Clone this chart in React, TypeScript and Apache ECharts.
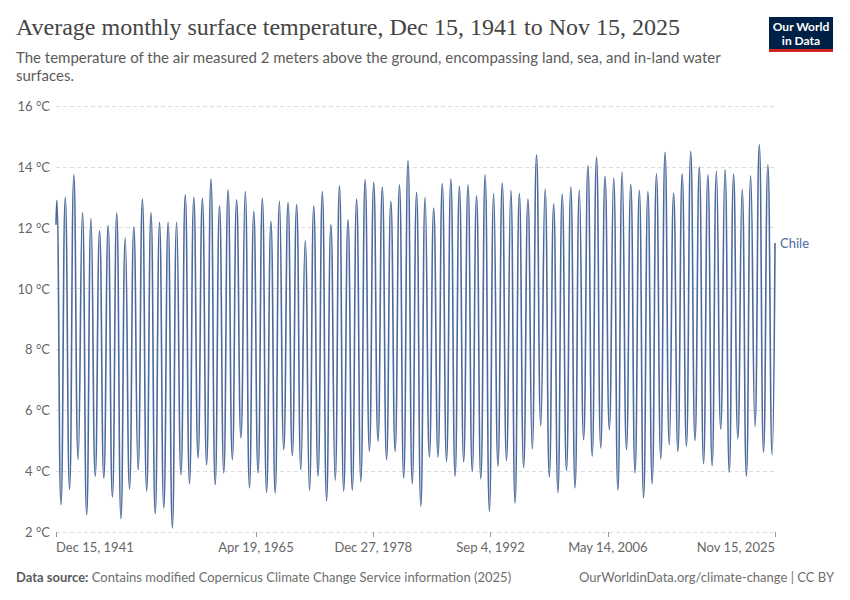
import React, { useEffect, useRef } from "react";
import * as echarts from "echarts";

// Chile, average monthly surface temperature (°C)
const FIRST_PEAK_YEAR = 1942;
const startPoint = { year: 1941, month: 12, day: 15, value: 12.1 };
const endPoint = { year: 2025, month: 11, day: 15, value: 11.5 };

// Summer peak (January) of each year 1942..2025
const janPeaks = [
  12.9, 13.0, 13.74, 12.5, 12.3, 11.9, 12.07, 12.48, 11.66, 12.02, 12.94, 12.5,
  12.18, 12.18, 12.18, 13.08, 13.0, 12.97, 13.6, 12.72, 13.25, 12.92, 13.19, 12.54,
  12.97, 12.21, 12.87, 12.83, 12.76, 11.57, 12.72, 13.19, 12.1, 13.38, 12.26, 12.94,
  13.58, 13.49, 13.34, 12.87, 13.41, 14.21, 13.16, 13.0, 12.65, 13.45, 13.6, 13.36,
  13.41, 13.05, 13.74, 13.12, 13.47, 13.23, 13.12, 12.94, 14.4, 13.27, 12.79, 13.11,
  13.34, 13.23, 14.04, 14.32, 13.69, 13.63, 13.83, 13.43, 13.23, 13.19, 13.77, 14.48,
  13.14, 13.77, 14.51, 13.99, 13.74, 13.85, 13.91, 13.76, 13.27, 13.71, 14.73, 14.07,
];

// Winter trough (July) of each year 1942..2025
const julTroughs = [
  2.9, 3.4, 4.38, 2.57, 3.83, 3.77, 3.15, 2.44, 3.41, 4.03, 3.34, 2.6,
  2.79, 2.13, 3.88, 3.59, 4.43, 4.21, 3.56, 3.94, 4.38, 5.09, 3.45, 3.94,
  3.3, 3.28, 4.71, 4.51, 4.05, 3.37, 3.83, 3.03, 3.7, 3.34, 3.37, 3.66,
  4.65, 4.98, 4.38, 4.65, 3.77, 3.59, 2.84, 4.46, 4.46, 4.32, 3.83, 4.3,
  3.99, 3.74, 2.68, 4.16, 4.35, 2.95, 4.12, 4.73, 5.49, 3.81, 3.3, 4.02,
  3.45, 5.03, 4.49, 4.76, 5.36, 3.37, 4.71, 3.94, 3.12, 3.59, 4.4, 4.87,
  4.65, 4.81, 5.01, 4.25, 4.18, 5.38, 3.96, 5.06, 3.83, 5.47, 4.62, 4.54,
];

// X tick dates (days are counted from 2020-01-21, 5000-day spacing)
const xTickDates = [
  [1941, 12, 15],
  [1965, 4, 19],
  [1978, 12, 27],
  [1992, 9, 4],
  [2006, 5, 14],
  [2025, 11, 15],
];
const yTicks = [2, 4, 6, 8, 10, 12, 14, 16];
const seriesName = "Chile";

const MONTHS = ["Jan", "Feb", "Mar", "Apr", "May", "Jun", "Jul", "Aug", "Sep", "Oct", "Nov", "Dec"];
const EPOCH = Date.UTC(2020, 0, 21);
const dayIndex = (y: number, m: number, d: number) =>
  Math.round((Date.UTC(y, m - 1, d) - EPOCH) / 86400000);
const dayLabel = (v: number) => {
  const dt = new Date(EPOCH + Math.round(v) * 86400000);
  return `${MONTHS[dt.getUTCMonth()]} ${dt.getUTCDate()}, ${dt.getUTCFullYear()}`;
};

const FONT = "Lato, 'Noto Sans', sans-serif";

export default function App() {
  const ref = useRef<HTMLDivElement>(null);

  useEffect(() => {
    document.body.style.margin = "0";
    if (!ref.current) return;
    const chart = echarts.init(ref.current, undefined, { renderer: "svg" });

    const data: [number, number][] = [];
    data.push([dayIndex(startPoint.year, startPoint.month, startPoint.day), startPoint.value]);
    janPeaks.forEach((p, i) => {
      const y = FIRST_PEAK_YEAR + i;
      data.push([dayIndex(y, 1, 15), p]);
      data.push([dayIndex(y, 7, 15), julTroughs[i]]);
    });
    data.push([dayIndex(endPoint.year, endPoint.month, endPoint.day), endPoint.value]);

    const tickValues = xTickDates.map(([y, m, d]) => dayIndex(y, m, d));

    chart.setOption({
      animation: false,
      grid: { left: 56, right: 75, top: 106, bottom: 68, containLabel: false },
      xAxis: {
        type: "value",
        min: tickValues[0],
        max: tickValues[tickValues.length - 1],
        axisLine: { show: false },
        splitLine: { show: false },
        axisTick: {
          show: true,
          customValues: tickValues,
          length: 5,
          lineStyle: { color: "#999" },
        },
        axisLabel: {
          customValues: tickValues,
          formatter: (v: number) => dayLabel(v),
          color: "#666",
          fontFamily: FONT,
          fontSize: 13,
          margin: 8,
          alignMinLabel: "left",
          alignMaxLabel: "right",
        },
      },
      yAxis: {
        type: "value",
        min: yTicks[0],
        max: yTicks[yTicks.length - 1],
        interval: 2,
        axisLine: { show: false },
        axisTick: { show: false },
        axisLabel: {
          formatter: "{value} °C",
          color: "#666",
          fontFamily: FONT,
          fontSize: 13,
          margin: 6,
        },
        splitLine: { lineStyle: { color: "#ddd", type: [4, 3] } },
      },
      series: [
        {
          name: seriesName,
          type: "line",
          data,
          showSymbol: false,
          smooth: 0.5,
          lineStyle: { color: "#4C6A9C", width: 1.6 },
          itemStyle: { color: "#4C6A9C" },
          endLabel: {
            show: true,
            formatter: seriesName,
            color: "#4C6A9C",
            fontFamily: FONT,
            fontSize: 13,
            distance: 5,
          },
        },
      ],
      graphic: [
        {
          type: "text",
          left: 16,
          top: 15,
          style: {
            text: "Average monthly surface temperature, Dec 15, 1941 to Nov 15, 2025",
            fill: "#444",
            font: "24px 'Liberation Serif', 'DejaVu Serif', serif",
          },
        },
        {
          type: "text",
          left: 16,
          top: 48,
          style: {
            text:
              "The temperature of the air measured 2 meters above the ground, encompassing land, sea, and in-land water\nsurfaces.",
            fill: "#5b5b5b",
            fontFamily: FONT,
            fontSize: 15,
            lineHeight: 18,
          },
        },
        {
          type: "group",
          right: 17,
          top: 17,
          children: [
            { type: "rect", shape: { x: 0, y: 0, width: 64, height: 35 }, style: { fill: "#002147" } },
            { type: "rect", shape: { x: 0, y: 32, width: 64, height: 3 }, style: { fill: "#ce261e" } },
            {
              type: "text",
              x: 32,
              y: 16,
              style: {
                text: "Our World\nin Data",
                fill: "#fff",
                fontFamily: FONT,
                fontSize: 12,
                fontWeight: "bold",
                lineHeight: 14,
                align: "center",
                verticalAlign: "middle",
              },
            },
          ],
        },
        {
          type: "text",
          left: 16,
          top: 570,
          style: {
            text: "{b|Data source:} {n|Contains modified Copernicus Climate Change Service information (2025)}",
            rich: {
              b: { fontFamily: FONT, fontSize: 13, fontWeight: "bold", fill: "#5b5b5b" },
              n: { fontFamily: FONT, fontSize: 13, fill: "#6e6e6e" },
            },
          },
        },
        {
          type: "text",
          right: 16,
          top: 570,
          style: {
            text: "OurWorldinData.org/climate-change | CC BY",
            fill: "#6e6e6e",
            fontFamily: FONT,
            fontSize: 13,
          },
        },
      ],
    });

    return () => chart.dispose();
  }, []);

  return <div ref={ref} style={{ width: 850, height: 600 }} />;
}
